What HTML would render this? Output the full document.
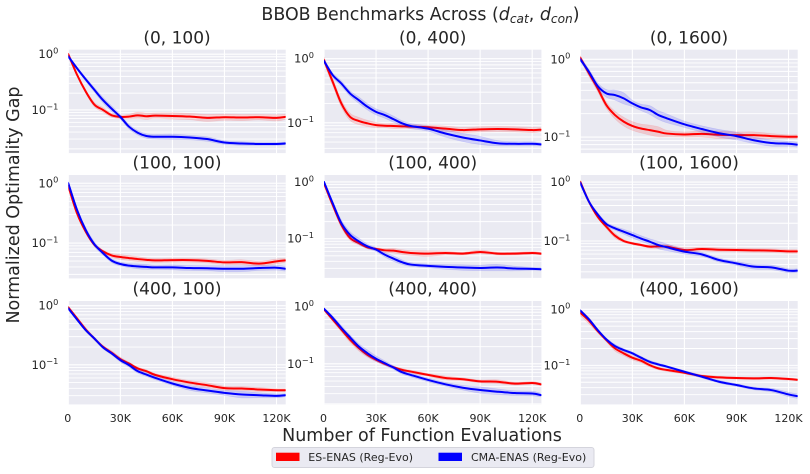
<!DOCTYPE html>
<html><head><meta charset="utf-8"><title>BBOB Benchmarks</title>
<style>
html,body{margin:0;padding:0;background:#fff}
#chart{display:block;width:810px;height:474px;font-family:"DejaVu Sans",sans-serif;fill:#262626;filter:blur(.35px)}
</style></head>
<body>
<svg id="chart" xmlns="http://www.w3.org/2000/svg" width="810" height="474" viewBox="0 0 810 474">
<text x="420.5" y="20" font-size="17.4" text-anchor="middle">BBOB Benchmarks Across (<tspan font-style="italic">d</tspan><tspan font-style="italic" font-size="12.2" dy="3">cat</tspan><tspan dy="-3">, </tspan><tspan font-style="italic">d</tspan><tspan font-style="italic" font-size="12.2" dy="3">con</tspan><tspan dy="-3">)</tspan></text>
<text x="422" y="441" font-size="17.5" text-anchor="middle">Number of Function Evaluations</text>
<text transform="translate(19,205) rotate(-90)" font-size="17.5" text-anchor="middle">Normalized Optimality Gap</text>
<g id="panels"></g>
<g>
<rect x="272" y="447.5" width="322" height="20" rx="2.5" fill="#eaeaf2" stroke="#d4d4dc" stroke-width="1"/>
<rect x="276" y="452.7" width="23.5" height="8.3" fill="#ff0000"/>
<text x="308.3" y="461" font-size="11">ES-ENAS (Reg-Evo)</text>
<rect x="438.5" y="452.7" width="23.5" height="8.3" fill="#0000ff"/>
<text x="471" y="461" font-size="11">CMA-ENAS (Reg-Evo)</text>
</g>
</svg>
<script>
// Function evaluations, in thousands
const evalsK=[0,5,10,15,20,25,30,35,40,45,50,60,70,80,90,100,110,120,125];
const xTicksK=[0,30,60,90,120];
const xTickLabels=["0","30K","60K","90K","120K"];
const xMaxK=125.3;

const es_0_100=[1,.43,.215,.125,.1,.08,.075,.076,.08,.077,.079,.078,.076,.072,.074,.073,.074,.072,.075];
const cma_0_100=[.91,.56,.355,.23,.15,.105,.075,.05,.039,.034,.033,.033,.032,.03,.026,.025,.0245,.0245,.025];
const esBand_0_100=[.06,.08,.08,.1,.1,.08,.08,.1,.14,.14,.12,.14,.14,.16,.14,.14,.12,.14,.12];
const cmaBand_0_100=[.05,.06,.08,.1,.12,.12,.1,.1,.1,.1,.1,.12,.1,.1,.08,.08,.06,.06,.06];

const es_0_400=[.95,.437,.2,.124,.107,.098,.092,.09,.089,.088,.087,.085,.081,.077,.079,.08,.079,.077,.078];
const cma_0_400=[.92,.555,.41,.287,.226,.178,.148,.132,.114,.098,.089,.081,.068,.059,.053,.048,.047,.047,.046];
const esBand_0_400=[.12,.14,.14,.14,.14,.12,.1,.08,.1,.08,.08,.08,.1,.1,.1,.1,.1,.1,.08];
const cmaBand_0_400=[.06,.08,.1,.1,.12,.12,.12,.12,.12,.1,.1,.1,.14,.16,.16,.1,.08,.08,.06];

const es_0_1600=[1.05,.66,.423,.258,.192,.158,.139,.129,.123,.117,.111,.108,.11,.107,.106,.106,.103,.101,.101];
const cma_0_1600=[1,.69,.454,.365,.347,.315,.271,.241,.223,.192,.174,.146,.127,.112,.103,.091,.084,.082,.08];
const esBand_0_1600=[.06,.1,.1,.1,.12,.14,.14,.14,.16,.16,.1,.08,.1,.12,.1,.1,.08,.06,.06];
const cmaBand_0_1600=[.06,.08,.1,.12,.16,.18,.1,.1,.14,.14,.14,.1,.1,.12,.12,.1,.1,.08,.08];

const es_100_100=[.9,.316,.156,.094,.0727,.0623,.0585,.0562,.0541,.0525,.0514,.052,.052,.0505,.0476,.048,.0453,.0495,.0514];
const cma_100_100=[1,.36,.167,.096,.068,.051,.0447,.042,.0408,.04,.0393,.0393,.0383,.038,.0373,.0373,.0383,.0388,.0373];
const esBand_100_100=[.06,.06,.06,.06,.06,.08,.1,.1,.1,.08,.08,.08,.08,.08,.08,.1,.1,.1,.08];
const cmaBand_100_100=[.08,.1,.1,.1,.08,.08,.08,.08,.1,.1,.08,.1,.1,.1,.12,.12,.1,.1,.1];

const es_100_400=[.95,.395,.176,.103,.084,.0705,.066,.0624,.0615,.0583,.056,.0546,.056,.0546,.0583,.0546,.0546,.056,.0546];
const cma_100_400=[1,.423,.188,.117,.09,.0734,.0641,.0524,.0446,.0385,.035,.0331,.0318,.031,.0305,.031,.0298,.0294,.029];
const esBand_100_400=[.06,.1,.12,.1,.08,.06,.06,.08,.1,.1,.1,.12,.08,.06,.08,.06,.06,.06,.05];
const cmaBand_100_400=[.05,.1,.14,.14,.14,.1,.08,.1,.12,.1,.08,.08,.1,.12,.12,.14,.1,.06,.06];

const es_100_1600=[1.01,.464,.258,.175,.123,.1,.0912,.0855,.0802,.081,.0802,.0703,.0731,.0712,.0703,.0695,.0686,.0668,.0668];
const cma_100_1600=[.97,.464,.283,.194,.164,.144,.126,.11,.0975,.0855,.0781,.066,.0594,.0476,.0418,.0367,.0358,.0314,.0314];
const esBand_100_1600=[.04,.06,.06,.08,.1,.06,.05,.05,.06,.08,.08,.1,.08,.08,.08,.08,.08,.08,.08];
const cmaBand_100_1600=[.06,.06,.08,.08,.08,.1,.12,.12,.12,.16,.14,.1,.08,.08,.08,.1,.1,.08,.08];

const es_400_100=[.94,.61,.398,.279,.202,.16,.125,.105,.0867,.0781,.0676,.0571,.0501,.0452,.0403,.0397,.0382,.0372,.0372];
const cma_400_100=[.9,.586,.387,.279,.197,.156,.12,.0987,.0781,.0685,.0603,.0483,.0407,.0367,.0335,.0314,.0306,.0298,.0306];
const esBand_400_100=[.04,.06,.08,.06,.06,.08,.08,.06,.06,.06,.06,.08,.08,.1,.08,.08,.08,.06,.06];
const cmaBand_400_100=[.04,.04,.04,.06,.06,.06,.08,.08,.08,.08,.08,.08,.1,.1,.1,.14,.1,.08,.06];

const es_400_400=[.9,.597,.398,.265,.189,.144,.118,.1,.0873,.0784,.0733,.064,.0566,.0537,.0494,.0487,.045,.0462,.0438];
const cma_400_400=[.92,.64,.426,.292,.202,.154,.123,.103,.0861,.0713,.064,.0522,.0438,.0382,.0348,.0325,.0308,.0302,.0284];
const esBand_400_400=[.06,.08,.1,.12,.12,.1,.08,.06,.05,.06,.06,.06,.08,.06,.06,.08,.06,.06,.05];
const cmaBand_400_400=[.05,.08,.1,.1,.12,.14,.12,.1,.08,.08,.08,.08,.08,.1,.14,.12,.1,.1,.08];

const es_400_1600=[.87,.628,.41,.283,.201,.164,.137,.121,.101,.0883,.0826,.074,.0645,.0611,.0594,.0586,.0594,.057,.0555];
const cma_400_1600=[.95,.662,.427,.291,.221,.188,.164,.137,.116,.104,.0946,.0771,.0628,.0511,.0446,.0388,.0363,.0303,.0283];
const esBand_400_1600=[.14,.14,.08,.08,.12,.1,.1,.08,.08,.06,.06,.06,.06,.05,.05,.05,.05,.05,.04];
const cmaBand_400_1600=[.05,.05,.06,.06,.08,.06,.06,.06,.06,.06,.05,.05,.06,.06,.06,.06,.08,.1,.1];

// [title, es, cma, esBand, cmaBand, row, col, log10 ymin, log10 ymax]
const panels=[
["(0, 100)",es_0_100,cma_0_100,esBand_0_100,cmaBand_0_100,0,0,-1.775,.081],
["(0, 400)",es_0_400,cma_0_400,esBand_0_400,cmaBand_0_400,0,1,-1.473,.14],
["(0, 1600)",es_0_1600,cma_0_1600,esBand_0_1600,cmaBand_0_1600,0,2,-1.206,.124],
["(100, 100)",es_100_100,cma_100_100,esBand_100_100,cmaBand_100_100,1,0,-1.59,.138],
["(100, 400)",es_100_400,cma_100_400,esBand_100_400,cmaBand_100_400,1,1,-1.7,.123],
["(100, 1600)",es_100_1600,cma_100_1600,esBand_100_1600,cmaBand_100_1600,1,2,-1.634,.119],
["(400, 100)",es_400_100,cma_400_100,esBand_400_100,cmaBand_400_100,2,0,-1.67,.08],
["(400, 400)",es_400_400,cma_400_400,esBand_400_400,cmaBand_400_400,2,1,-1.71,.1],
["(400, 1600)",es_400_1600,cma_400_1600,esBand_400_1600,cmaBand_400_1600,2,2,-1.696,.148]
];
const NS="http://www.w3.org/2000/svg";
const colLeft=[68.3,324,580.3],rowTop=[49.7,175,301],panelW=217.4,panelH=103.4;
function mk(tag,parent,attrs){const e=document.createElementNS(NS,tag);for(const k in attrs)e.setAttribute(k,attrs[k]);parent.appendChild(e);return e;}
// Smooth curve through screen points (Catmull-Rom to Bezier)
function curve(pts,start){
  let d=(start?'M':'L')+pts[0][0].toFixed(2)+' '+pts[0][1].toFixed(2);
  for(let i=0;i<pts.length-1;i++){
    const a=pts[Math.max(i-1,0)],b=pts[i],c=pts[i+1],e=pts[Math.min(i+2,pts.length-1)];
    const c1x=b[0]+(c[0]-a[0])/6,c1y=b[1]+(c[1]-a[1])/6,c2x=c[0]-(e[0]-b[0])/6,c2y=c[1]-(e[1]-b[1])/6;
    d+='C'+c1x.toFixed(2)+' '+c1y.toFixed(2)+' '+c2x.toFixed(2)+' '+c2y.toFixed(2)+' '+c[0].toFixed(2)+' '+c[1].toFixed(2);
  }
  return d;
}
const root=document.getElementById('panels');
panels.forEach((p,idx)=>{
  const [title,es,cma,esB,cmaB,r,c,lo,hi]=p;
  const L=colLeft[c],T=rowTop[r],slug=title.replace(/[(), ]+/g,'-').replace(/^-|-$/g,'');
  const X=k=>L+k/xMaxK*panelW;
  const Y=v=>T+(hi-Math.log10(v))/(hi-lo)*panelH;
  const g=mk('g',root,{});
  
  
  const bg=mk('rect',g,{x:L,y:T,width:panelW,height:panelH,fill:'#eaeaf2'});
  
  
  const cp=mk('clipPath',g,{id:'clip'+idx});
  mk('rect',cp,{x:L,y:T,width:panelW,height:panelH});
  for(let d=-3;d<=1;d++){for(let m=1;m<10;m++){
    const v=m*Math.pow(10,d),lg=Math.log10(v);
    if(lg<lo||lg>hi)continue;
    const yy=Y(v);
    const gl=mk('line',g,{x1:L,x2:L+panelW,y1:yy,y2:yy,stroke:'#fff','stroke-width':m===1?1.1:.9});
    
    
  }}
  xTicksK.forEach((k,i)=>{
    const gl=mk('line',g,{x1:X(k),x2:X(k),y1:T,y2:T+panelH,stroke:'#fff','stroke-width':1.1});
    
    
    if(r===2){
      const t=mk('text',g,{x:X(k)-(i===0?.5:0),y:422,'font-size':11,'text-anchor':'middle'});
      t.textContent=xTickLabels[i];
      
      
    }
  });
  [[1,'0'],[.1,'\u22121']].forEach(([v,sup])=>{
    const t=mk('text',g,{x:L-10,y:Y(v)+4,'font-size':11.6,'text-anchor':'end'});
    
    
    const a=mk('tspan',t,{});a.textContent='10';
    const b=mk('tspan',t,{'font-size':8.2,dy:-4.6});b.textContent=sup;
  });
  const ti=mk('text',g,{x:L+panelW/2,y:T-6.3,'font-size':17,'text-anchor':'middle'});
  ti.textContent=title;
  
  
  const marks=mk('g',g,{'clip-path':'url(#clip'+idx+')'});
  [[es,esB,'#ff0000','es-enas'],[cma,cmaB,'#0000ff','cma-enas']].forEach(([vals,band,col,nm])=>{
    const upper=vals.map((v,i)=>[X(evalsK[i]),Y(v*(1+band[i]))]);
    const lower=vals.map((v,i)=>[X(evalsK[i]),Y(v/(1+band[i]))]).reverse();
    const mid=vals.map((v,i)=>[X(evalsK[i]),Y(v)]);
    const a=mk('path',marks,{d:curve(upper,true)+curve(lower,false)+'Z',fill:col,'fill-opacity':.14,stroke:col,'stroke-opacity':.1,'stroke-width':.6});
    
    
    const l=mk('path',marks,{d:curve(mid,true),fill:'none',stroke:col,'stroke-width':2,'stroke-linejoin':'round','stroke-linecap':'round'});
    
    
  });
});
</script>
</body></html>
